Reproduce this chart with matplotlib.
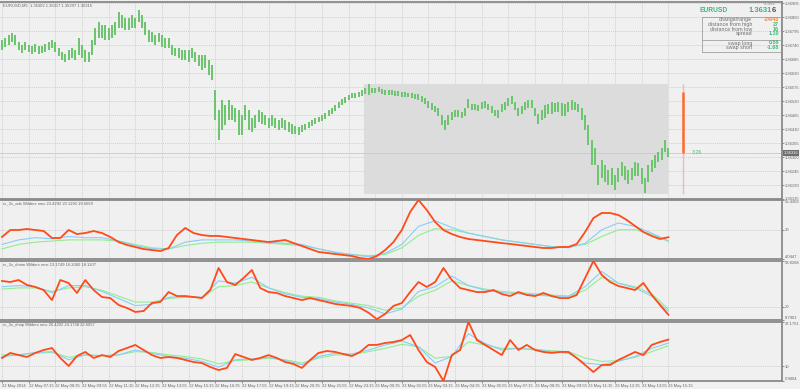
import numpy as np
import matplotlib
matplotlib.use('Agg')
import matplotlib.pyplot as plt
from matplotlib.patches import Rectangle

plt.rcParams['font.family'] = ['Liberation Sans', 'DejaVu Sans']

# ---- price bars (EURUSD M5), points above 1.36000, one sample every 2 bars
price_hi = [760, 768, 779, 787, 779, 752, 740, 752, 740, 736, 744, 736, 736, 744, 752, 760, 752, 728, 713, 705,
            720, 728, 720, 768, 740, 720, 713, 760, 807, 831, 819, 819, 807, 819, 831, 870, 858, 846, 846, 858,
            846, 878, 858, 831, 799, 791, 779, 787, 779, 768, 768, 740, 728, 728, 720, 720, 720, 728, 713, 701,
            701, 701, 681, 662, 563, 485, 524, 504, 524, 504, 493, 485, 465, 504, 485, 453, 465, 485, 477, 465,
            453, 465, 453, 445, 453, 445, 438, 430, 422, 418, 426, 430, 438, 445, 453, 457, 465, 473, 485, 493,
            504, 516, 528, 536, 544, 552, 552, 555, 563, 571, 586, 571, 571, 575, 567, 563, 563, 563, 559, 559,
            555, 555, 552, 552, 548, 548, 540, 532, 520, 512, 500, 493, 465, 445, 465, 477, 485, 485, 477, 493,
            528, 508, 508, 504, 516, 520, 508, 500, 485, 485, 508, 516, 532, 540, 516, 493, 500, 516, 524, 524,
            493, 469, 485, 504, 508, 516, 512, 516, 512, 508, 516, 524, 516, 508, 493, 465, 426, 367, 335, 269,
            288, 269, 249, 257, 229, 257, 280, 265, 249, 257, 280, 276, 257, 217, 269, 288, 308, 320, 335, 367,
            335]
price_lo = [720, 732, 740, 752, 740, 720, 709, 720, 713, 705, 713, 705, 709, 713, 720, 728, 713, 697, 681, 673,
            681, 689, 681, 701, 689, 673, 673, 701, 740, 768, 768, 760, 760, 768, 779, 807, 807, 799, 799, 807,
            807, 831, 807, 779, 752, 752, 740, 752, 732, 728, 728, 701, 697, 689, 681, 681, 673, 689, 673, 658,
            642, 650, 622, 603, 445, 367, 406, 426, 445, 445, 438, 386, 386, 445, 406, 398, 414, 438, 430, 426,
            414, 422, 414, 406, 414, 406, 398, 390, 390, 386, 398, 406, 414, 422, 430, 438, 441, 449, 461, 469,
            481, 493, 504, 512, 524, 532, 532, 536, 540, 548, 544, 552, 552, 555, 548, 544, 544, 544, 540, 540,
            536, 536, 536, 532, 528, 524, 516, 508, 493, 485, 477, 461, 426, 406, 426, 445, 457, 457, 453, 461,
            493, 485, 485, 481, 489, 493, 485, 473, 461, 453, 477, 485, 500, 508, 485, 461, 469, 485, 493, 493,
            461, 430, 445, 453, 469, 469, 477, 477, 461, 461, 477, 485, 485, 477, 445, 406, 347, 269, 269, 190,
            217, 202, 190, 190, 170, 202, 225, 210, 194, 210, 225, 225, 194, 158, 202, 241, 257, 280, 288, 320,
            300]

day_high, day_low, day_open, last_price = 1.36586, 1.36156, 1.36556, 1.36316
day_start_bar, last_bar, range_bar = 217, 400, 409

# ---- indicators: fast line sampled every 5 bars, the two slow lines every 10 bars
adx_main = [23.6, 29.8, 29.8, 30.7, 29.8, 28.9, 22.7, 22.7, 29.8, 26.2, 27.1, 28.9, 27.1, 23.6, 19.1, 16.5, 14.7,
            12.9, 12.0, 11.1, 13.8, 25.3, 31.6, 27.1, 25.3, 24.5, 24.5, 23.6, 22.7, 21.8, 20.9, 20.0, 19.1, 20.0,
            20.9, 18.2, 15.6, 12.9, 10.3, 9.4, 8.5, 7.6, 6.7, 4.9, 4.0, 6.7, 12.0, 19.1, 29.8, 45.8, 56.4, 47.5,
            36.9, 29.8, 26.2, 23.6, 21.8, 20.9, 20.0, 19.1, 18.2, 17.4, 16.5, 15.6, 14.7, 13.8, 13.8, 14.7, 14.7,
            17.4, 28.0, 40.4, 44.9, 44.9, 43.1, 38.7, 33.3, 28.0, 24.5, 21.8, 23.4]
adx_mid = [17, 21, 23, 22, 24, 23, 23, 20, 16, 13, 13, 19, 21, 21, 21, 20, 19, 18, 17, 13, 10, 8, 6, 9, 17,
           33, 38, 32, 27, 24, 21, 19, 17, 15, 14, 18, 30, 36, 33, 27, 20.1]
adx_slow = [13, 17, 19, 20, 21, 21, 21, 20, 17, 14, 13, 16, 18, 19, 19, 19, 18, 17, 16, 13, 10, 8, 7, 8, 14,
            25, 31, 30, 27, 24, 21, 19, 17, 15, 15, 17, 24, 30, 30, 26, 19.7]

dmim_main = [41.9, 41.0, 42.7, 38.5, 36.8, 34.2, 25.7, 42.7, 40.2, 31.7, 42.7, 34.2, 28.3, 27.4, 21.5, 19.0,
             15.6, 16.4, 23.2, 24.1, 32.5, 29.1, 29.1, 28.3, 27.4, 34.2, 52.9, 41.0, 38.5, 44.4, 51.2, 35.9,
             32.5, 31.7, 29.1, 27.4, 25.7, 27.4, 25.7, 24.1, 22.4, 21.5, 20.7, 19.0, 15.0, 9.5, 14.0, 20.7, 23.2,
             32.5, 41.0, 36.8, 41.0, 52.9, 42.7, 35.9, 34.2, 32.5, 32.5, 34.2, 30.8, 29.1, 32.5, 30.0, 29.1, 31.7,
             29.1, 27.4, 27.4, 30.0, 44.4, 58.8, 47.0, 41.0, 37.6, 35.9, 34.2, 40.2, 30.0, 21.5, 13.2]
dmim_mid = [37, 38, 37, 32, 38, 38, 33, 27, 21, 22, 28, 29, 28, 42, 40, 45, 36, 31, 28, 27, 24, 22, 19, 14, 18,
            33, 37, 46, 38, 34, 32, 31, 30, 29, 29, 37, 50, 40, 36, 29, 16.2]
dmim_slow = [35, 36, 36, 33, 36, 37, 34, 29, 24, 24, 27, 28, 28, 37, 38, 41, 36, 32, 29, 28, 25, 23, 21, 17, 19,
             29, 34, 42, 38, 35, 33, 32, 31, 30, 29, 34, 45, 40, 37, 31, 18.1]

dmip_main = [15.1, 18.2, 16.9, 15.7, 18.2, 20.0, 21.2, 15.1, 10.2, 16.3, 18.8, 15.1, 16.9, 15.7, 19.4, 21.2, 23.1,
             20.0, 16.9, 15.1, 15.7, 15.1, 13.9, 12.6, 12.0, 9.6, 7.7, 9.0, 17.5, 15.7, 13.9, 15.1, 16.9, 15.1,
             12.6, 11.4, 9.0, 13.9, 18.2, 19.4, 18.8, 17.5, 16.3, 18.8, 23.1, 23.1, 24.3, 24.9, 26.1, 29.2, 20.0,
             12.6, 9.6, 1.0, 16.9, 20.0, 37.2, 26.1, 23.1, 20.0, 16.9, 26.1, 20.0, 23.1, 20.0, 18.8, 18.2, 18.8,
             18.8, 15.1, 10.8, 6.5, 10.8, 10.8, 13.9, 16.3, 18.8, 16.9, 23.1, 24.9, 26.4]
dmip_mid = [16, 17, 18.5, 19, 14, 17, 16.5, 17, 20, 18, 16, 15, 13, 9.5, 14, 14.5, 15.5, 13.5, 11, 16, 18, 17.5,
            20, 23, 25.5, 22, 12, 16, 30, 24, 20, 21, 20, 19, 18, 12, 11, 13, 16, 21, 24.2]
dmip_slow = [17, 17, 18, 18.5, 15.5, 17, 16.5, 17, 19, 18.5, 17, 16, 14.5, 11.5, 13.5, 14, 15, 14, 12, 15, 17,
             17, 19, 21, 23.5, 22, 15, 16, 25, 23, 21, 21, 20.5, 19.5, 19, 15, 13, 13.5, 15.5, 19, 22.6]

time_labels = ['22 May 2014', '22 May 07:15', '22 May 08:35', '22 May 09:55', '22 May 11:15', '22 May 12:35',
               '22 May 13:55', '22 May 15:15', '22 May 16:35', '22 May 17:55', '22 May 19:15', '22 May 20:35',
               '22 May 21:55', '22 May 23:15', '23 May 00:35', '23 May 01:55', '23 May 03:15', '23 May 04:35',
               '23 May 05:55', '23 May 07:15', '23 May 08:35', '23 May 09:55', '23 May 11:15', '23 May 12:35',
               '23 May 13:55', '23 May 15:15']
time_ticks = [16 * i for i in range(len(time_labels))]

BG = '#f0f0f0'
GRID = '#c4c4c4'
TXT = '#666666'
BARC = '#6cc46c'
RED, BLUE, GREEN = '#ff4a1a', '#87cefa', '#90ee90'
FS = 3.0

W, H = 800, 389
fig = plt.figure(figsize=(8, 3.89), dpi=100, facecolor=BG)


def make_ax(top_px, bot_px):
    ax = fig.add_axes([0, 1 - bot_px / H, 782 / W, (bot_px - top_px) / H], facecolor=BG)
    ax.set_xlim(-1.2, 468.2)
    for s in ax.spines.values():
        s.set_color('#8a8a8a')
        s.set_linewidth(1.3)
    ax.spines['left'].set_visible(False)
    ax.yaxis.tick_right()
    ax.tick_params(axis='y', labelsize=FS, colors=TXT, length=1.5, width=0.5, pad=0.8)
    ax.tick_params(axis='x', length=0, labelbottom=False)
    ax.set_xticks(time_ticks)
    ax.grid(True, color=GRID, linestyle=(0, (1.5, 1.5)), linewidth=0.5)
    ax.set_axisbelow(True)
    return ax


ax0 = make_ax(2, 199)
ax1 = make_ax(200, 259)
ax2 = make_ax(261, 320)
ax3 = make_ax(322, 381)

# main price chart
hi = 1.36 + np.array(price_hi) / 1e5
lo = 1.36 + np.array(price_lo) / 1e5
bx = np.linspace(0, last_bar, len(price_hi))
ax0.add_patch(Rectangle((day_start_bar, day_low), last_bar - day_start_bar, day_high - day_low,
                        facecolor='#dcdcdc', edgecolor='none', zorder=1))
ax0.vlines(bx, lo, hi, color=BARC, linewidth=1.4, zorder=3)
ax0.axhline(last_price, color='#c8c8c8', linewidth=0.6, zorder=2)
ax0.vlines(range_bar, day_low, day_high, color='#f7b3c3', linewidth=1.0, zorder=3)
ax0.vlines(range_bar, last_price, day_open, color='#ff6a2a', linewidth=1.8, zorder=4)
ax0.text(range_bar + 5, last_price, '3:26', color='#4cb870', fontsize=3.8, va='center', zorder=5)
ax0.set_ylim(1.36135, 1.36909)
pt = [1.36135 + 0.00055 * i for i in range(15)]
ax0.set_yticks(pt)
ax0.set_yticklabels(['%.5f' % v for v in pt])
ax0.text(0.004, 0.993, 'EURUSD,M5  1.36302 1.36317 1.36297 1.36316', transform=ax0.transAxes,
         fontsize=FS, color=TXT, va='top')
ax0.text(1.002, last_price, '1.36316', transform=ax0.get_yaxis_transform(), fontsize=FS, color='white',
         va='center', ha='left', bbox=dict(boxstyle='square,pad=0.2', fc='#6e6e6e', ec='none'), zorder=6)

# indicator panels
fast_x = np.linspace(0, last_bar, len(adx_main))
slow_x = np.linspace(0, last_bar, len(adx_mid))
panels = [
    (ax1, adx_main, adx_mid, adx_slow, (4.0447, 56.4308), [4.0447, 30, 56.4308], ['4.0447', '30', '56.4308'],
     'rc_3x_adx Wilders nmc 23.4292 20.1190 19.6669'),
    (ax2, dmim_main, dmim_mid, dmim_slow, (8.7901, 58.8268), [8.7901, 20, 58.8268], ['8.7901', '20', '58.8268'],
     'rc_3x_dmim Wilders nmc 13.1749 16.2060 18.1207'),
    (ax3, dmip_main, dmip_mid, dmip_slow, (0.9804, 37.1751), [0.9804, 10, 37.1751], ['0.9804', '10', '37.1751'],
     'rc_3x_dmip Wilders nmc 26.4202 24.1738 22.6057'),
]
for ax, a, b, c, lim, ticks, labels, title in panels:
    ax.plot(slow_x, c, color=GREEN, linewidth=0.8, zorder=3)
    ax.plot(slow_x, b, color=BLUE, linewidth=0.8, zorder=3)
    ax.plot(fast_x, a, color=RED, linewidth=1.3, zorder=4)
    ax.set_ylim(*lim)
    ax.set_yticks(ticks)
    ax.set_yticklabels(labels)
    tl = ax.get_yticklabels()
    tl[0].set_va('bottom')
    tl[-1].set_va('top')
    ax.yaxis.grid(False)
    for t in ticks[1:-1]:
        ax.axhline(t, color=GRID, linestyle=(0, (1.5, 1.5)), linewidth=0.5, zorder=1)
    ax.text(0.004, 0.975, title, transform=ax.transAxes, fontsize=FS, color=TXT, va='top')

ax3.tick_params(axis='x', labelbottom=True, length=1.5, width=0.5, labelsize=FS, colors=TXT, pad=1)
ax3.set_xticklabels(time_labels, ha='left')

# info block (top right)
def ftxt(x, y, s, **kw):
    fig.text(x / W, 1 - y / H, s, va='center', **kw)


ftxt(764, 4, 'aClock', fontsize=2.8, color='#909090')
ftxt(700, 11, 'EURUSD', fontsize=4.8, color='#3cb878', fontweight='bold')
ftxt(772, 11, '1.3631', fontsize=5.5, color='#3cb878', fontweight='bold', ha='right')
ftxt(772, 11, '6', fontsize=5.5, color='#555555', fontweight='bold', ha='left')
info_names = ['change/range', 'distance from high', 'distance from low', 'spread']
info_vals = ['-24/43', '27', '16', '1.10']
info_cols = ['#ff7f27', '#3cb878', '#3cb878', '#3cb878']
for i, (n, v, c) in enumerate(zip(info_names, info_vals, info_cols)):
    ftxt(752, 19.5 + 4.8 * i, n, fontsize=3.9, color='#707070', ha='right')
    ftxt(779, 19.5 + 4.8 * i, v, fontsize=3.9, color=c, ha='right', fontweight='bold')
swap_names = ['swap long', 'swap short']
swap_vals = ['0.58', '-1.68']
for i, (n, v) in enumerate(zip(swap_names, swap_vals)):
    ftxt(752, 43 + 4.8 * i, n, fontsize=3.9, color='#707070', ha='right')
    ftxt(779, 43 + 4.8 * i, v, fontsize=3.9, color='#3cb878', ha='right', fontweight='bold')
for yy in (16.5, 39.5, 52):
    fig.add_artist(plt.Line2D([702 / W, 781 / W], [1 - yy / H] * 2, color='#a0a0a0', linewidth=0.6))
fig.add_artist(plt.Line2D([702 / W] * 2, [1 - 16.5 / H, 1 - 52 / H], color='#a0a0a0', linewidth=0.6))

fig.savefig('out.png', dpi=100, facecolor=BG)
